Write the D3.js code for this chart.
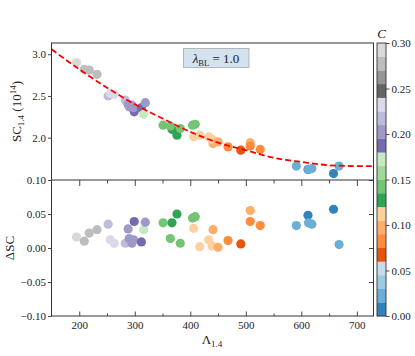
<!DOCTYPE html>
<html>
<head>
<meta charset="utf-8">
<script src="https://cdn.jsdelivr.net/npm/d3@7"></script>
<style>
body{margin:0;background:#fff}
svg{display:block}
</style>
</head>
<body>
<div id="chart"></div>
<script>
// values
var lambda14=[195,209,218,232,252,256,263,283,288,290,295,299,298,312,316,319,351,367,364,376,382,404,409,406,417,433,441,439,450,468,491,508,508,526,591,612,613,619,658,668];
var sc14=[2.90,2.82,2.81,2.76,2.50,2.53,2.52,2.45,2.40,2.37,2.39,2.31,2.36,2.36,2.28,2.42,2.15,2.10,2.14,2.03,2.11,2.15,2.16,2.01,2.03,2.01,1.93,1.98,1.95,1.89,1.85,1.94,1.90,1.86,1.66,1.62,1.62,1.63,1.57,1.66];
var dSC=[0.016,0.010,0.022,0.027,0.035,0.012,0.007,0.007,0.028,0.014,0.007,0.039,0.012,0.009,0.027,0.038,0.037,0.037,0.014,0.050,0.007,0.044,0.046,0.029,0.002,0.012,0.027,0.003,0.001,0.011,0.006,0.055,0.039,0.033,0.033,0.048,0.037,0.035,0.057,0.005];
var cVal=[0.292,0.277,0.277,0.277,0.217,0.232,0.232,0.217,0.202,0.202,0.202,0.187,0.202,0.187,0.172,0.202,0.142,0.127,0.142,0.127,0.142,0.142,0.142,0.112,0.112,0.112,0.097,0.112,0.097,0.082,0.067,0.097,0.082,0.082,0.022,0.007,0.022,0.022,0.007,0.022];

// red dashed fit curve, read at points along it
var fitLambda=[150,200,250,300,350,400,450,500,550,600,650,700,730];
var fitSC=[3.06,2.82,2.60,2.40,2.23,2.07,1.94,1.85,1.76,1.71,1.67,1.66,1.66];

// tab20c
var cmapColors=['#3182bd','#6baed6','#9ecae1','#c6dbef','#e6550d','#fd8d3c','#fdae6b','#fdd0a2','#31a354','#74c476','#a1d99b','#c7e9c0','#756bb1','#9e9ac8','#bcbddc','#dadaeb','#636363','#969696','#bdbdbd','#d9d9d9'];

var xTicks=[200,300,400,500,600,700];
var xMinor=[250,350,450,550,650];
var topTicks=[2.0,2.5,3.0];
var botTicks=[-0.10,-0.05,0.00,0.05,0.10];
var cbTicks=[0.00,0.05,0.10,0.15,0.20,0.25,0.30];

var W=415,H=356;
var F='"Liberation Serif","DejaVu Serif",serif';
var L=51.5,R=373.5,T=43,M=180,B=316;

var svg=d3.select('#chart').append('svg').attr('width',W).attr('height',H);

var x=d3.scaleLinear().domain([150,730]).range([L,R]);
var yTop=d3.scaleLinear().domain([1.493,3.135]).range([M,T]);
var yBot=d3.scaleLinear().domain([-0.10,0.10]).range([B,M]);
var color=d3.scaleQuantize().domain([0,0.30]).range(cmapColors);

var pts=lambda14.map(function(l,i){return {l:l,sc:sc14[i],d:dSC[i],c:cVal[i]}});
var fit=fitLambda.map(function(l,i){return [l,fitSC[i]]});

svg.append('defs').append('clipPath').attr('id','clipTop').append('rect').attr('x',L).attr('y',T).attr('width',R-L).attr('height',M-T);

function minus(d){return (d<0?'\u2212':'')+Math.abs(d).toFixed(2)}
function styleAxis(g){
  g.select('.domain').remove();
  g.selectAll('line').attr('stroke','#333').attr('stroke-width',0.9);
  g.selectAll('text').attr('font-family',F).attr('font-size',11).attr('fill','#222');
}

// top panel points
svg.append('g').selectAll('circle').data(pts).join('circle')
  .attr('cx',function(d){return x(d.l)}).attr('cy',function(d){return yTop(d.sc)})
  .attr('r',4.6).attr('fill',function(d){return color(d.c)});

// fit curve
svg.append('path').datum(fit).attr('clip-path','url(#clipTop)')
  .attr('d',d3.line().x(function(d){return x(d[0])}).y(function(d){return yTop(d[1])}).curve(d3.curveMonotoneX))
  .attr('fill','none').attr('stroke','#f00').attr('stroke-width',1.8).attr('stroke-dasharray','6,3');

// bottom panel points
svg.append('g').selectAll('circle').data(pts).join('circle')
  .attr('cx',function(d){return x(d.l)}).attr('cy',function(d){return yBot(d.d)})
  .attr('r',4.6).attr('fill',function(d){return color(d.c)});

// axes
svg.append('g').attr('transform','translate('+L+',0)')
  .call(d3.axisLeft(yTop).tickValues(topTicks).tickFormat(d3.format('.1f')).tickSizeOuter(0).tickSize(3.5).tickPadding(2)).call(styleAxis);
svg.append('g').attr('transform','translate('+L+',0)')
  .call(d3.axisLeft(yBot).tickValues(botTicks).tickFormat(minus).tickSizeOuter(0).tickSize(3.5).tickPadding(2)).call(styleAxis);
svg.append('g').attr('transform','translate('+R+',0)')
  .call(d3.axisLeft(yBot).tickValues(botTicks.slice(1)).tickFormat('').tickSizeOuter(0).tickSize(4.5)).call(styleAxis);
svg.append('g').attr('transform','translate(0,'+M+')')
  .call(d3.axisBottom(x).tickValues(xTicks).tickFormat('').tickSizeOuter(0).tickSize(6)).call(styleAxis);
svg.append('g').attr('transform','translate(0,'+M+')')
  .call(d3.axisBottom(x).tickValues(xMinor).tickFormat('').tickSizeOuter(0).tickSize(3.5)).call(styleAxis);
svg.append('g').attr('transform','translate(0,'+B+')')
  .call(d3.axisBottom(x).tickValues(xTicks).tickFormat(d3.format('d')).tickSizeOuter(0).tickSizeInner(-4.5).tickPadding(5)).call(styleAxis);
svg.append('g').attr('transform','translate(0,'+B+')')
  .call(d3.axisBottom(x).tickValues(xMinor).tickFormat('').tickSizeOuter(0).tickSizeInner(-2.5)).call(styleAxis);

// spines
svg.append('rect').attr('x',L).attr('y',T).attr('width',R-L).attr('height',B-T).attr('fill','none').attr('stroke','#333').attr('stroke-width',1);
svg.append('line').attr('x1',L).attr('x2',R).attr('y1',M).attr('y2',M).attr('stroke','#333').attr('stroke-width',1);

// legend box
var lg=svg.append('g');
lg.append('rect').attr('x',183.5).attr('y',48.5).attr('width',65.5).attr('height',19).attr('fill','#d3e2ee').attr('stroke','#a8a8a8').attr('stroke-width',0.8);
var lt=lg.append('text').attr('x',216).attr('y',62.5).attr('text-anchor','middle').attr('font-family',F).attr('font-size',13).attr('fill','#222');
lt.append('tspan').attr('font-style','italic').text('\u03bb');
lt.append('tspan').attr('font-size',8.5).attr('dy',3).text('BL');
lt.append('tspan').attr('dy',-3).text(' = 1.0');

// axis labels
var yl=svg.append('text').attr('transform','translate(21,111.5) rotate(-90)').attr('text-anchor','middle').attr('font-family',F).attr('font-size',13).attr('fill','#222');
yl.append('tspan').text('SC');
yl.append('tspan').attr('font-size',9).attr('dy',3).text('1.4');
yl.append('tspan').attr('dy',-3).text(' (10');
yl.append('tspan').attr('font-size',9).attr('dy',-5).text('14');
yl.append('tspan').attr('dy',5).text(')');

svg.append('text').attr('transform','translate(13.5,248) rotate(-90)').attr('text-anchor','middle').attr('font-family',F).attr('font-size',13).attr('fill','#222').text('\u0394SC');

var xl=svg.append('text').attr('x',212).attr('y',344).attr('text-anchor','middle').attr('font-family',F).attr('font-size',13).attr('fill','#222');
xl.append('tspan').text('\u039b');
xl.append('tspan').attr('font-size',9).attr('dy',3).text('1.4');

// colorbar
var cbX=377,cbW=9;
var cb=d3.scaleLinear().domain([0,0.30]).range([B,T]);
var step=0.30/cmapColors.length;
svg.append('g').selectAll('rect').data(cmapColors).join('rect')
  .attr('x',cbX).attr('y',function(d,i){return cb((i+1)*step)}).attr('width',cbW)
  .attr('height',function(d,i){return cb(i*step)-cb((i+1)*step)+0.3}).attr('fill',function(d){return d});
svg.append('rect').attr('x',cbX).attr('y',T).attr('width',cbW).attr('height',B-T).attr('fill','none').attr('stroke','#333').attr('stroke-width',0.9);
svg.append('g').attr('transform','translate('+(cbX+cbW)+',0)')
  .call(d3.axisRight(cb).tickValues(cbTicks).tickFormat(d3.format('.2f')).tickSizeOuter(0).tickSize(3.5).tickPadding(2)).call(styleAxis);
svg.append('text').attr('x',cbX+cbW/2).attr('y',38).attr('text-anchor','middle').attr('font-family',F).attr('font-style','italic').attr('font-size',13).attr('fill','#222').text('C');
</script>
</body>
</html>
